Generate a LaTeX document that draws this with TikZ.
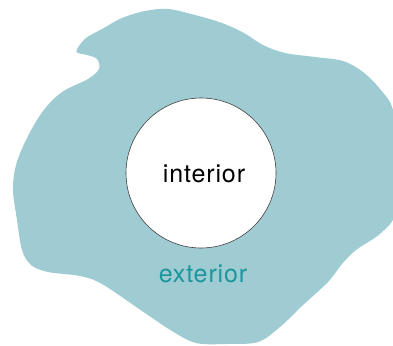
\documentclass[tikz,border=0pt]{standalone}
\usepackage{fontspec}
\setmainfont{TeX Gyre Heros}[LetterSpace=3.5]
\definecolor{blobfill}{RGB}{159,203,210}
\definecolor{exttext}{RGB}{26,150,156}
\begin{document}
\begin{tikzpicture}[x=1pt,y=-1pt,
  lbl/.style={font=\fontsize{25}{28}\selectfont, inner sep=0pt, anchor=base}]
\useasboundingbox (0,0) rectangle (393,345);
\clip (0,0) rectangle (393,345);
\fill[blobfill] plot[smooth cycle, tension=0.55] coordinates {
  (77,49) (86,38) (102,29) (122,18) (145,11) (168,9) (195,15) (222,23) (244,33)
  (263,45) (285,53) (315,57) (343,61) (363,72) (380,89) (393,110) (399,160)
  (396,212) (381,233) (356,250) (342,264) (328,282) (302,306) (280,327)
  (258,342) (226,344) (196,343) (172,331) (142,311) (102,284) (80,276)
  (48,272) (31,265) (22,250) (17,220) (13,190) (16,165) (27,138) (43,111)
  (62,92) (88,79) (99,69) (97,59) (87,55) (78,53)};
\node[circle, draw=black!75, line width=0.6pt, fill=white, minimum size=150pt, inner sep=0pt] (inner) at (201,173) {};
\node[lbl] (intlabel) at (204,182) {interior};
\node[lbl, text=exttext] (extlabel) at (203,282) {exterior};
\end{tikzpicture}
\end{document}
